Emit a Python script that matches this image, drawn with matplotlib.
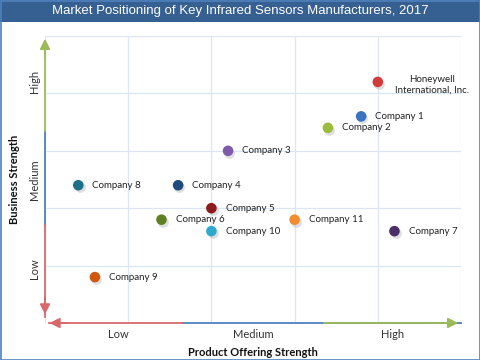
import matplotlib.pyplot as plt
from matplotlib.patches import Rectangle

# company positions (product offering strength, business strength), grid units 0..5
companies = ["Honeywell\nInternational, Inc.", "Company 1", "Company 2", "Company 3",
             "Company 4", "Company 8", "Company 5", "Company 6", "Company 10",
             "Company 11", "Company 7", "Company 9"]
product_strength = [4.0, 3.8, 3.4, 2.2, 1.6, 0.4, 2.0, 1.4, 2.0, 3.0, 4.2, 0.6]
business_strength = [4.2, 3.6, 3.4, 3.0, 2.4, 2.4, 2.0, 1.8, 1.6, 1.8, 1.6, 0.8]
colors = ["#D23B3B", "#3A72C2", "#9BBB3C", "#7E5AAA", "#1F4A7C", "#1F7189",
          "#8C1C1C", "#5F7F23", "#2FA9CE", "#F28C2C", "#4B2F69", "#D0570F"]

level_labels = ["Low", "Medium", "High"]

fig = plt.figure(figsize=(4.8, 3.6), dpi=100)
plt.rcParams["font.family"] = ["Lato", "DejaVu Sans"]

# title bar and outer border
fig.patches.append(Rectangle((0, 360 - 22), 480, 22, transform=None,
                             facecolor="#365F92", edgecolor="none"))
fig.patches.append(Rectangle((0.5, 0.5), 479, 359, transform=None, fill=False,
                             edgecolor="#4F81BD", linewidth=1.2))
fig.text(0.5, 1 - 11 / 360, "Market Positioning of Key Infrared Sensors Manufacturers, 2017",
         ha="center", va="center", color="white", fontsize=9.5,
         family="Liberation Sans")

ax = fig.add_axes([45 / 480, 37 / 360, 416 / 480, 287 / 360])
ax.set_xlim(0, 5)
ax.set_ylim(0, 5)
for s in ax.spines.values():
    s.set_visible(False)
ax.set_xticks(range(6))
ax.set_yticks(range(6))
ax.tick_params(length=0, labelbottom=False, labelleft=False)
ax.grid(True, color="#DCE6F2", linewidth=0.9)
ax.set_axisbelow(True)

# colored axis arrows (low / medium / high)
ax.plot([1.65, 5], [0, 0], color="#4F81BD", lw=1.3, clip_on=False)
ax.plot([0, 0], [1.7, 3.35], color="#4F81BD", lw=1.3, clip_on=False)
ax.plot([0.05, 1.65], [0, 0], color="#D9686B", lw=1.3, clip_on=False)
ax.plot([0, 0], [0.1, 1.7], color="#D9686B", lw=1.3, clip_on=False)
ax.plot([3.35, 4.9], [0, 0], color="#9BBB59", lw=1.3, clip_on=False)
ax.plot([0, 0], [3.35, 4.9], color="#9BBB59", lw=1.3, clip_on=False)
arrow = dict(arrowstyle="-|>,head_length=0.6,head_width=0.3", lw=1.3)
ax.annotate("", xy=(5.0, 0), xytext=(4.7, 0), annotation_clip=False,
            arrowprops=dict(arrow, color="#9BBB59"))
ax.annotate("", xy=(0.02, 0), xytext=(0.3, 0), annotation_clip=False,
            arrowprops=dict(arrow, color="#D9686B"))
ax.annotate("", xy=(0, 5.0), xytext=(0, 4.6), annotation_clip=False,
            arrowprops=dict(arrow, color="#9BBB59"))
ax.annotate("", xy=(0, 0.1), xytext=(0, 0.5), annotation_clip=False,
            arrowprops=dict(arrow, color="#D9686B"))

# level labels
for pos, lab in zip([0.88, 2.5, 4.18], level_labels):
    ax.text(pos, -0.2, lab, ha="center", va="center", fontsize=8, color="#333333")
for pos, lab in zip([0.95, 2.5, 4.2], level_labels):
    ax.text(-0.13, pos, lab, ha="center", va="center", rotation=90,
            fontsize=8, color="#333333")
ax.text(2.5, -0.52, "Product Offering Strength", ha="center", va="center",
        fontsize=8, fontweight="bold", color="#111111")
ax.text(-0.37, 2.5, "Business Strength", ha="center", va="center", rotation=90,
        fontsize=8, fontweight="bold", color="#111111")

# dots with a soft shadow
ax.scatter([x + 0.015 for x in product_strength], [y - 0.035 for y in business_strength],
           s=60, color="#C0C0C0", alpha=0.5, linewidths=0, zorder=3)
ax.scatter(product_strength, business_strength, s=58, c=colors, linewidths=0, zorder=4)

for name, x, y in zip(companies, product_strength, business_strength):
    if name.startswith("Honeywell"):
        ax.text(x + 0.65, y - 0.05, name, ha="center", va="center",
                fontsize=7, color="#222222", linespacing=1.15)
    else:
        ax.text(x + 0.17, y, name, ha="left", va="center", fontsize=7, color="#222222")

fig.savefig("out.png", dpi=100)
